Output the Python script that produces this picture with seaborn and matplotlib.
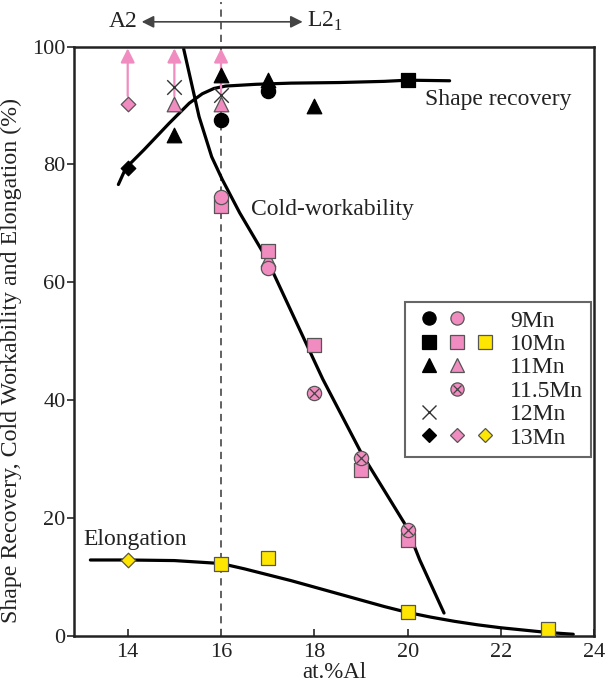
import matplotlib
matplotlib.use("Agg")
import matplotlib.pyplot as plt
import seaborn as sns
from matplotlib.lines import Line2D
from matplotlib.legend_handler import HandlerTuple

# Colours
PINK = "#f08cc0"
YELLOW = "#ffe600"
EDGE = "#555555"
INK = "#222222"

# ---- shape recovery (black = measured, pink = lower bound, arrow up) ----
sr9_x, sr9_y = [16, 17], [87.6, 92.4]
sr10_x, sr10_y = [20], [94.4]
sr11_x, sr11_y = [15, 16, 17, 18], [85.0, 95.2, 94.4, 89.9]
sr12_x, sr12_y = [15, 16], [93.2, 91.8]
sr13_x, sr13_y = [14], [79.4]
sr11_pink_x, sr11_pink_y = [15, 16], [90.2, 90.2]
sr13_pink_x, sr13_pink_y = [14], [90.2]

# ---- cold-workability (pink) ----
cw9_x, cw9_y = [16, 17], [74.5, 62.4]
cw10_x, cw10_y = [16, 17, 18, 19, 20], [73.0, 65.3, 49.3, 28.2, 16.3]
cw11_x, cw11_y = [17], [64.0]
cw115_x, cw115_y = [18, 19, 20], [41.3, 30.2, 18.0]

# ---- elongation (yellow) ----
el10_x, el10_y = [16, 17, 20, 23], [12.3, 13.2, 4.0, 1.2]
el13_x, el13_y = [14], [12.9]

# ---- hand-drawn trend curves ----
sr_curve_x = [13.8, 13.96, 14.35, 14.89, 15.32, 15.6, 15.85, 16.1, 16.75, 17.5, 18.54, 19.5, 20.0, 20.9]
sr_curve_y = [76.6, 79.4, 82.5, 87.0, 90.4, 92.0, 92.9, 93.3, 93.6, 93.8, 93.9, 94.1, 94.3, 94.2]
cw_curve_x = [15.2, 15.53, 15.8, 16.03, 16.4, 16.98, 18.18, 19.01, 19.98, 20.26, 20.78]
cw_curve_y = [99.6, 88.1, 81.3, 77.4, 71.8, 64.0, 43.6, 31.0, 18.5, 12.9, 3.9]
el_curve_x = [13.2, 14.0, 15.0, 16.0, 16.5, 17.0, 17.5, 18.0, 18.5, 19.0, 19.5, 20.0, 20.5,
              21.0, 21.5, 22.0, 22.5, 23.0, 23.55]
el_curve_y = [12.9, 12.9, 12.8, 12.3, 11.4, 10.4, 9.4, 8.3, 7.2, 6.1, 5.0, 4.0, 3.2,
              2.5, 1.9, 1.4, 1.0, 0.6, 0.3]

boundary_al = 16  # A2 / L2_1 boundary

sns.set_theme(style="ticks")
plt.rcParams["font.family"] = ["Liberation Serif", "DejaVu Serif"]
plt.rcParams["mathtext.fontset"] = "custom"
plt.rcParams["mathtext.rm"] = "Liberation Serif"

fig = plt.figure(figsize=(6.12, 6.85), dpi=100)
ax = fig.add_axes([0.121, 0.0715, 0.850, 0.8605])

# curves
for cx, cy in [(sr_curve_x, sr_curve_y), (cw_curve_x, cw_curve_y), (el_curve_x, el_curve_y)]:
    sns.lineplot(x=cx, y=cy, sort=False, estimator=None, color="black",
                 linewidth=2.3, ax=ax, zorder=2)

# boundary dashed line, running up past the frame
ax.plot([boundary_al, boundary_al], [0, 107.5], ls=(0, (4, 3)), color="#555555",
        lw=1.3, clip_on=False, zorder=1)

# pink arrows: shape recovery higher than the plotted value
for ax_x, ax_y in zip(sr13_pink_x + sr11_pink_x, sr13_pink_y + sr11_pink_y):
    ax.annotate("", xy=(ax_x, 99.7), xytext=(ax_x, ax_y),
                arrowprops=dict(arrowstyle="-|>", color=PINK, lw=1.6,
                                mutation_scale=21, shrinkA=6, shrinkB=0),
                zorder=3)

def pts(x, y, marker, color, s, edge=EDGE, lw=0.9, z=4):
    sns.scatterplot(x=x, y=y, marker=marker, color=color, s=s, edgecolor=edge,
                    linewidth=lw, ax=ax, zorder=z)

# shape recovery markers
pts(sr13_x, sr13_y, "D", "black", 55, edge="black")
pts(sr11_x, sr11_y, "^", "black", 110, edge="black")
pts(sr9_x, sr9_y, "o", "black", 105, edge="black")
pts(sr10_x, sr10_y, "s", "black", 105, edge="black")
sns.scatterplot(x=sr12_x, y=sr12_y, marker="x", color="#333333", s=110,
                linewidth=1.0, ax=ax, zorder=4)
pts(sr13_pink_x, sr13_pink_y, "D", PINK, 55)
pts(sr11_pink_x, sr11_pink_y, "^", PINK, 110)

# cold-workability markers
pts(cw11_x, cw11_y, "^", PINK, 110)
pts(cw10_x, cw10_y, "s", PINK, 105)
pts(cw9_x, cw9_y, "o", PINK, 105)
pts(cw115_x, cw115_y, "o", PINK, 105, z=5)
sns.scatterplot(x=cw115_x, y=cw115_y, marker="x", color="#444444", s=45,
                linewidth=0.9, ax=ax, zorder=6)

# elongation markers
pts(el10_x, el10_y, "s", YELLOW, 105)
pts(el13_x, el13_y, "D", YELLOW, 55)

# axes
ax.set_xlim(12.85, 24)
ax.set_ylim(0, 100)
ax.set_xticks([14, 16, 18, 20, 22, 24])
ax.set_yticks([0, 20, 40, 60, 80, 100])
ax.tick_params(axis="x", direction="in", length=5, width=1.2, labelsize=16,
               labelcolor=INK, pad=5)
ax.tick_params(axis="y", direction="out", length=5, width=1.2, labelsize=16,
               labelcolor=INK, pad=1)
for sp in ax.spines.values():
    sp.set_linewidth(1.8)
    sp.set_color("#222222")
ax.set_xlabel("at.%Al", fontsize=16.5, color=INK, labelpad=0)
ax.set_ylabel("Shape Recovery, Cold Workability and Elongation (%)", fontsize=17.2,
              color=INK)
ax.yaxis.set_label_coords(-0.1, 0.468)

# curve labels
ax.text(20.37, 91, "Shape recovery", fontsize=17, color=INK, va="center")
ax.text(16.65, 72.3, "Cold-workability", fontsize=17, color=INK, va="center")
ax.text(13.05, 16.3, "Elongation", fontsize=17, color=INK, va="center")

# A2 <-> L2_1 above the frame
ax.annotate("", xy=(14.3, 104.2), xytext=(17.75, 104.2),
            arrowprops=dict(arrowstyle="<|-|>", color="#444444", lw=1.2,
                            mutation_scale=18, shrinkA=0, shrinkB=0),
            annotation_clip=False)
ax.text(14.22, 104.2, "A2", fontsize=17, color=INK, va="center", ha="right")
ax.text(17.85, 104.2, r"L2$_\mathrm{1}$", fontsize=17, color=INK, va="center", ha="left")

# legend with three marker slots per alloy
blank = Line2D([], [], linestyle="none", marker=None)

def mk(marker, color, size, edge=EDGE):
    return Line2D([], [], linestyle="none", marker=marker, markersize=size,
                  markerfacecolor=color, markeredgecolor=edge, markeredgewidth=0.9)

rows = [
    (mk("o", "black", 9.5, "black"), mk("o", PINK, 9.5), blank),
    (mk("s", "black", 9.5, "black"), mk("s", PINK, 9.5), mk("s", YELLOW, 9.5)),
    (mk("^", "black", 9.5, "black"), mk("^", PINK, 9.5), blank),
    (blank, (mk("o", PINK, 9.5), Line2D([], [], linestyle="none", marker="x",
                                          markersize=6, color="#444444",
                                          markeredgewidth=0.9)), blank),
    (Line2D([], [], linestyle="none", marker="x", markersize=10, color="#333333",
            markeredgewidth=1.0), blank, blank),
    (mk("D", "black", 7, "black"), mk("D", PINK, 7), mk("D", YELLOW, 7)),
]
labels = ["9Mn", "10Mn", "11Mn", "11.5Mn", "12Mn", "13Mn"]
hmap = {r: HandlerTuple(ndivide=3, pad=-0.17) for r in rows}
leg = ax.legend(rows, labels, handler_map=hmap, loc="upper right",
                bbox_to_anchor=(0.994, 0.567), fontsize=17, numpoints=1,
                handlelength=3.73, handletextpad=0.38, labelspacing=0.08,
                borderpad=0.35, frameon=True, fancybox=False, framealpha=1,
                borderaxespad=0)
leg.get_frame().set_edgecolor("#666666")
leg.get_frame().set_linewidth(1.5)
for t in leg.get_texts():
    t.set_color(INK)

fig.savefig("out.png", dpi=100)
